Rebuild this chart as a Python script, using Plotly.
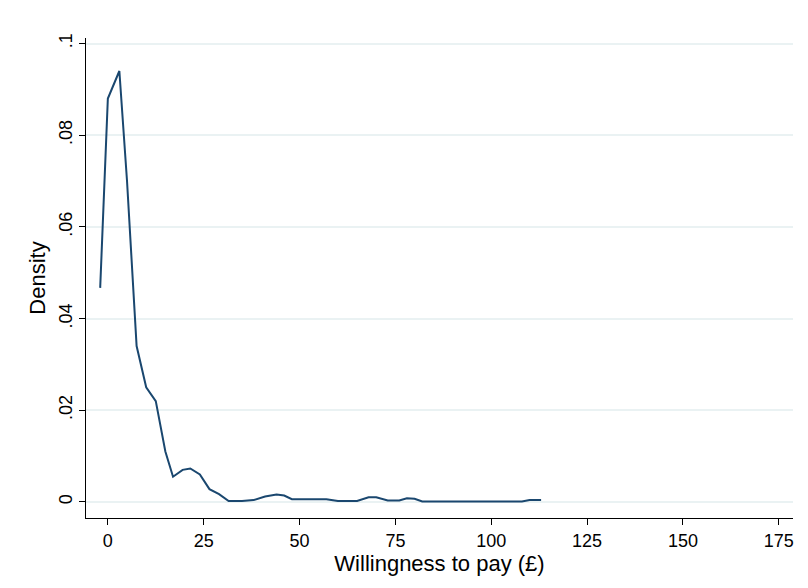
import plotly.graph_objects as go

wtp = [-2, 0, 3, 5, 7.5, 10, 12.5, 15, 17, 19.5, 21.5, 24, 26.5, 29, 31.5, 35, 38, 41, 44, 46, 48, 53, 57, 60, 65, 68, 70, 73, 76, 78, 80, 82, 108, 110, 113]
density = [0.0467, 0.088, 0.094, 0.07, 0.034, 0.025, 0.022, 0.011, 0.0055, 0.007, 0.0073, 0.006, 0.0028, 0.0017, 0.0002, 0.0002, 0.0004, 0.0012, 0.0016, 0.0014, 0.0006, 0.0006, 0.0006, 0.0002, 0.0002, 0.001, 0.001, 0.0003, 0.0003, 0.0008, 0.0007, 0.0001, 0.0001, 0.0004, 0.0004]
xticks = [0, 25, 50, 75, 100, 125, 150, 175]
yticks = [0, 0.02, 0.04, 0.06, 0.08, 0.1]
ylabels = ["0", ".02", ".04", ".06", ".08", ".1"]

fig = go.Figure(go.Scatter(x=wtp, y=density, mode="lines",
                           line=dict(color="#1a476f", width=2)))
fig.update_layout(
    width=808, height=588, paper_bgcolor="white", plot_bgcolor="white",
    margin=dict(l=78, r=23, t=30, b=78), showlegend=False,
    font=dict(family="Liberation Sans, Arial", size=18, color="black"),
)
fig.update_xaxes(range=[-5.7, 178.7], tickvals=xticks, showgrid=False, zeroline=False,
                 showline=True, linecolor="black", linewidth=1, ticks="outside",
                 ticklen=6, tickcolor="black", automargin=False,
                 title=dict(text="Willingness to pay (£)", standoff=2))
fig.update_yaxes(range=[-0.0035, 0.1012], tickvals=yticks, ticktext=ylabels, tickangle=-90,
                 showgrid=True, gridcolor="#eaf2f3", gridwidth=1.5, zeroline=False,
                 showline=True, linecolor="black", linewidth=1, ticks="outside",
                 ticklen=6, tickcolor="black", automargin=False,
                 title=dict(text="Density", standoff=4))
fig.write_html("out.html")
